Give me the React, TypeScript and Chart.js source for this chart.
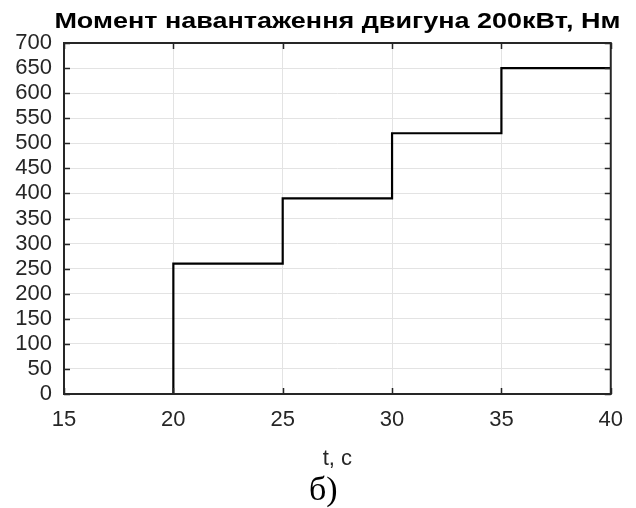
import React, { useEffect, useRef } from "react";
import { Chart, registerables } from "chart.js";

Chart.register(...registerables);

const chartTitle = "Момент навантаження двигуна 200кВт, Нм";
const xAxisLabel = "t, c";
const captionLabel = "б)";
const times = [15, 20, 25, 30, 35, 40];
const loadTorque = [0, 260, 390, 520, 650, 650];
const xTicks = [15, 20, 25, 30, 35, 40];
const yMin = 0;
const yMax = 700;
const yStep = 50;

const AXIS_COLOR = "#262626";
const GRID_COLOR = "#e3e3e3";
const SANS = "'Liberation Sans', Arial, Helvetica, sans-serif";
const SERIF = "'Liberation Serif', 'Times New Roman', serif";

const boxPlugin = {
  id: "matlabBox",
  afterDatasetsDraw(chart: any) {
    const { ctx, chartArea, scales } = chart;
    const { left, right, top, bottom } = chartArea;
    const x = scales.x;
    const y = scales.y;
    ctx.save();
    ctx.strokeStyle = AXIS_COLOR;
    ctx.lineWidth = 1.5;
    const tl = 6;
    ctx.beginPath();
    x.ticks.forEach((t: any) => {
      const px = Math.round(x.getPixelForValue(t.value)) + 0.5;
      ctx.moveTo(px, bottom);
      ctx.lineTo(px, bottom - tl);
      ctx.moveTo(px, top);
      ctx.lineTo(px, top + tl);
    });
    y.ticks.forEach((t: any) => {
      const py = Math.round(y.getPixelForValue(t.value)) + 0.5;
      ctx.moveTo(left, py);
      ctx.lineTo(left + tl, py);
      ctx.moveTo(right, py);
      ctx.lineTo(right - tl, py);
    });
    ctx.stroke();
    ctx.lineWidth = 2;
    ctx.strokeRect(left, top, right - left, bottom - top);
    ctx.restore();
  },
};

const textPlugin = {
  id: "titleCaption",
  afterDraw(chart: any) {
    const { ctx, chartArea } = chart;
    const cx = (chartArea.left + chartArea.right) / 2;
    ctx.save();
    // title, stretched horizontally like the reference rendering
    ctx.font = `bold 22px ${SANS}`;
    ctx.fillStyle = "#000000";
    ctx.textAlign = "center";
    ctx.textBaseline = "alphabetic";
    const w = ctx.measureText(chartTitle).width;
    const targetW = 566;
    const sx = targetW / w;
    ctx.translate(cx, chartArea.top - 15);
    ctx.scale(sx, 1);
    ctx.fillText(chartTitle, 0, 0);
    ctx.restore();

    ctx.save();
    ctx.font = `34px ${SERIF}`;
    ctx.fillStyle = "#000000";
    ctx.textAlign = "center";
    ctx.textBaseline = "alphabetic";
    ctx.fillText(captionLabel, cx - 14, chart.height - 8);
    ctx.restore();
  },
};

export default function App() {
  const canvasRef = useRef<HTMLCanvasElement | null>(null);

  useEffect(() => {
    if (!canvasRef.current) return;
    const points = times.map((t, i) => ({ x: t, y: loadTorque[i] }));
    const chart = new Chart(canvasRef.current, {
      type: "line",
      data: {
        datasets: [
          {
            data: points,
            borderColor: "#000000",
            borderWidth: 2.2,
            pointRadius: 0,
            stepped: true,
            fill: false,
          },
        ],
      },
      options: {
        responsive: false,
        animation: false,
        devicePixelRatio: 1,
        layout: { padding: { left: 0, right: 24, top: 43, bottom: 34 } },
        plugins: {
          legend: { display: false },
          tooltip: { enabled: false },
          title: { display: false },
        },
        scales: {
          x: {
            type: "linear",
            min: xTicks[0],
            max: xTicks[xTicks.length - 1],
            afterBuildTicks: (scale: any) => {
              scale.ticks = xTicks.map((v) => ({ value: v }));
            },
            afterFit: (scale: any) => {
              scale.height = 80;
            },
            grid: { color: GRID_COLOR, drawTicks: false, lineWidth: 1 },
            border: { display: false },
            ticks: {
              color: AXIS_COLOR,
              padding: 13,
              maxRotation: 0,
              font: { family: SANS, size: 22 },
            },
            title: {
              display: true,
              text: xAxisLabel,
              color: AXIS_COLOR,
              font: { family: SANS, size: 22 },
              padding: { top: 0, bottom: 2 },
            },
          },
          y: {
            type: "linear",
            min: yMin,
            max: yMax,
            afterFit: (scale: any) => {
              scale.width = 64;
            },
            grid: { color: GRID_COLOR, drawTicks: false, lineWidth: 1 },
            border: { display: false },
            ticks: {
              stepSize: yStep,
              color: AXIS_COLOR,
              padding: 12,
              autoSkip: false,
              font: { family: SANS, size: 22 },
            },
          },
        },
      },
      plugins: [boxPlugin, textPlugin],
    });
    return () => chart.destroy();
  }, []);

  return (
    <div style={{ position: "absolute", left: 0, top: 0, width: 636, height: 508, background: "#ffffff" }}>
      <canvas ref={canvasRef} width={636} height={508} style={{ display: "block" }} />
    </div>
  );
}
